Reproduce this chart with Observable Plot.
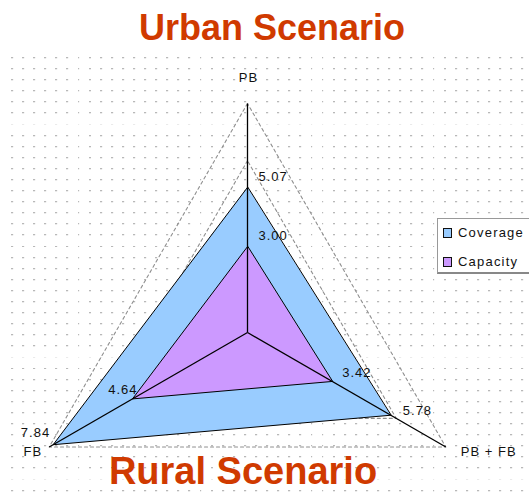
<!DOCTYPE html>
<html><head><meta charset="utf-8">
<script src="https://cdn.jsdelivr.net/npm/d3@7"></script>
<script src="https://cdn.jsdelivr.net/npm/@observablehq/plot@0.6"></script>
<style>
html,body{margin:0;padding:0;background:#fff;}
#wrap{position:relative;width:529px;height:492px;overflow:hidden;font-family:"Liberation Sans",Arial,sans-serif;}
#dots{position:absolute;left:11px;top:57px;right:0;bottom:0;
  background-image:url("data:image/svg+xml,%3Csvg xmlns='http://www.w3.org/2000/svg' width='11.1' height='11.1'%3E%3Crect width='2' height='1.2' fill='%23b8b8b8'/%3E%3C/svg%3E");
  background-size:11.1px 11.1px;}
#chart{position:absolute;left:0;top:0;}
.title{position:absolute;font-weight:bold;font-size:36px;line-height:36px;color:#d03a00;white-space:nowrap;transform:translateX(-50%);}
#legend{position:absolute;left:437px;top:218px;width:100px;height:53px;background:#fff;border:1px solid #999;border-bottom:2px solid #888;font-size:13px;letter-spacing:1.2px;color:#111;}
.item{position:absolute;left:0;height:16px;line-height:16px;white-space:nowrap;}
.sw{position:absolute;left:5px;top:3px;width:7px;height:8px;border:1px solid #111;}
.lab{position:absolute;left:20px;top:0;}
</style>
</head><body>
<div id="wrap">
  <div id="dots"></div>
  <div id="chart"></div>
  <div id="legend"></div>
  <div class="title" id="t1" style="left:272px;top:10px;"></div>
  <div class="title" id="t2" style="left:243px;top:453px;font-size:38px;line-height:36px;"></div>
</div>
<script>
// ---- data ----
const titleTop = "Urban Scenario";
const titleBottom = "Rural Scenario";
const axes = ["PB", "FB", "PB + FB"];
const coverage = [5.07, 7.84, 5.78];
const capacity = [3.00, 4.64, 3.42];
const coverageLabels = ["5.07", "7.84", "5.78"];
const capacityLabels = ["3.00", "4.64", "3.42"];
const seriesNames = ["Coverage", "Capacity"];
const seriesColors = ["#99ccff", "#cc99ff"];
const gridLevels = [2, 4, 6, 8];
const maxValue = 8;

// ---- geometry helpers ----
const angle = i => Math.PI / 2 + i * 2 * Math.PI / axes.length;
const pt = (v, i) => ({x: v * Math.cos(angle(i)), y: v * Math.sin(angle(i))});

const gridPts = gridLevels.flatMap(level => axes.map((a, i) => ({level, ...pt(level, i)})));
const series = [
  {name: seriesNames[0], values: coverage, labels: coverageLabels, color: seriesColors[0]},
  {name: seriesNames[1], values: capacity, labels: capacityLabels, color: seriesColors[1]}
];
const polys = series.map(s => s.values.map((v, i) => ({...pt(v, i), label: s.labels[i], axis: i})));
const ends = axes.map((a, i) => ({name: a, ...pt(maxValue, i)}));

// label offset styles per axis [series][axis]
const valueStyle = [
  [{dx: 11, dy: -11, anchor: "start"}, {dx: -3, dy: -12, anchor: "end"}, {dx: 12, dy: -4, anchor: "start"}],
  [{dx: 11, dy: -11, anchor: "start"}, {dx: 5, dy: -9, anchor: "end"}, {dx: 10, dy: -9, anchor: "start"}]
];
const axisStyle = [{dx: 1, dy: -26, anchor: "middle"}, {dx: -7, dy: 5, anchor: "end"}, {dx: 15, dy: 5, anchor: "start"}];

const cx = 247, cy = 332, R = 229;
const textStyle = {fontSize: 13, fill: "#111", fontFamily: "Liberation Sans, Arial, sans-serif"};

const marks = [
  Plot.line(gridPts, {x: "x", y: "y", z: "level", curve: "linear-closed", stroke: "#8f8f8f", strokeWidth: 1.1, strokeDasharray: "3,3"}),
  ...polys.map((p, k) => Plot.line(p, {x: "x", y: "y", curve: "linear-closed", fill: series[k].color, stroke: "#000", strokeWidth: 1})),
  Plot.link(ends, {x1: () => 0, y1: () => 0, x2: "x", y2: "y", stroke: "#000", strokeWidth: 1.3}),
  ...polys.flatMap((p, k) => p.map((d, i) => Plot.text([d], {x: "x", y: "y", text: "label", dx: valueStyle[k][i].dx, dy: valueStyle[k][i].dy, textAnchor: valueStyle[k][i].anchor, ...textStyle}))),
  ...ends.map((d, i) => Plot.text([d], {x: "x", y: "y", text: "name", dx: axisStyle[i].dx, dy: axisStyle[i].dy, textAnchor: axisStyle[i].anchor, ...textStyle}))
];

const chart = Plot.plot({
  width: 529, height: 492, margin: 0,
  style: {background: "transparent", fontFamily: "Liberation Sans, Arial, sans-serif", letterSpacing: "1px"},
  x: {type: "linear", domain: [-maxValue, maxValue], range: [cx - R, cx + R], axis: null},
  y: {type: "linear", domain: [-maxValue, maxValue], range: [cy + R, cy - R], axis: null},
  marks
});
document.getElementById("chart").appendChild(chart);

document.getElementById("t1").textContent = titleTop;
document.getElementById("t2").textContent = titleBottom;

const leg = document.getElementById("legend");
series.forEach((s, k) => {
  const it = document.createElement("div");
  it.className = "item";
  it.style.top = (6 + k * 29) + "px";
  it.innerHTML = `<span class="sw" style="background:${s.color}"></span><span class="lab">${s.name}</span>`;
  leg.appendChild(it);
});
</script>
</body></html>
